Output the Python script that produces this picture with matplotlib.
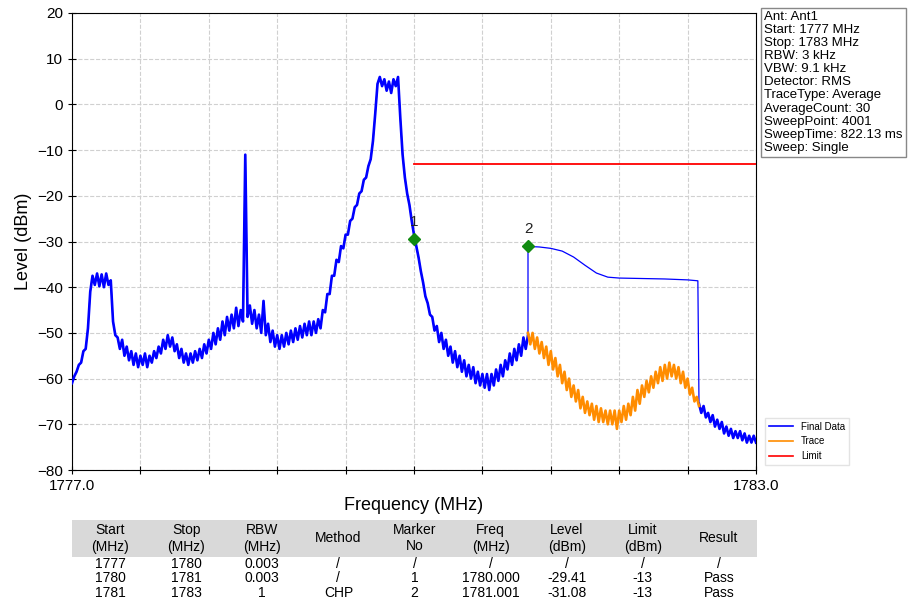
import numpy as np
import matplotlib.pyplot as plt

plt.rcParams['font.family'] = ['Liberation Sans', 'DejaVu Sans']

# Final Data, 1777.00 .. 1781.00 MHz, 0.02 MHz step
final_lo = [
    -61, -59.5, -58.5, -57, -56.5, -54, -53.5, -49, -41, -37.5,
    -39.5, -37, -39.8, -37.2, -40, -37, -39.5, -38.5, -47.5, -50.5,
    -51, -53.5, -51.5, -55, -53, -56, -54, -57, -54.5, -57.5,
    -55, -57, -54.5, -57.5, -55, -56.5, -54, -55.5, -53, -54.5,
    -51.5, -53.5, -50.5, -53, -51, -54, -52.5, -55.5, -53.5, -56.5,
    -54.5, -57, -54.5, -56.5, -54, -56, -53.5, -55.5, -52.5, -54.5,
    -51.5, -53.5, -50, -52.5, -49, -51.5, -47.5, -50.5, -46.5, -49.5,
    -46, -49, -44.5, -48.5, -45, -47.5, -11, -46.5, -44, -48,
    -45, -49, -46, -50, -43, -50.5, -48, -52, -49.5, -53,
    -50.5, -53.5, -50.5, -53, -50, -52.5, -49.5, -52, -49, -51.5,
    -48.5, -51, -48, -50.5, -47.5, -50.5, -47.5, -50, -47, -49,
    -45, -45.5, -41.5, -41.5, -37.5, -37.5, -34, -34.5, -31, -31.5,
    -28.5, -28.5, -25.5, -25, -22.5, -22, -19.5, -19, -16.5, -16,
    -13.5, -12, -8, -2, 4.5, 6, 4, 5.5, 3, 5,
    2.5, 5.5, 4, 6, -3, -11, -16, -19.5, -22, -25.5,
    -28.5, -31, -33.5, -36.5, -39, -42, -43.5, -46, -46.5, -49.5,
    -48.5, -52, -50, -53.5, -51.5, -55, -53, -56.5, -54, -57.5,
    -55, -58.5, -56, -59.5, -57, -60, -57.5, -61, -58.5, -61.5,
    -59, -62, -59, -62.5, -59, -61.5, -58, -60.5, -57, -59.5,
    -56, -58, -54.5, -57, -53.5, -56, -52.5, -55, -51, -53.5,
    -50.5,
]

# Final Data, channel power part (smooth)
chp_freq = [1781.0, 1781.1, 1781.2, 1781.3, 1781.4, 1781.5, 1781.6, 1781.7,
            1781.8, 1782.0, 1782.2, 1782.4, 1782.49, 1782.5]
chp_level = [-31.08, -31.2, -31.5, -32.1, -33.4, -35.2, -36.9, -37.8,
             -38.0, -38.1, -38.2, -38.4, -38.6, -65.5]

# Final Data, 1782.50 .. 1783.00 MHz
final_hi = [
    -65.5, -67.5, -66, -68.5, -67.5, -69.5, -68, -70.5, -69, -71,
    -69.5, -72, -70.5, -72.5, -71, -73, -71.5, -73, -71.5, -73.5,
    -72, -74, -72.5, -74, -72.5, -74,
]

# Trace, 1781.00 .. 1782.50 MHz
trace = [
    -50, -52.5, -50, -53.5, -51, -54.5, -52, -55.5, -53, -57,
    -54, -58, -55.5, -59.5, -57, -61, -58.5, -62.5, -60, -64,
    -61.5, -65, -62.5, -66.5, -64, -67.5, -65, -68, -65.5, -69,
    -66, -69.5, -66.5, -69.5, -67, -70, -67, -70, -67, -71,
    -67, -69.5, -66, -69, -65.5, -68, -64, -67, -62.5, -65.5,
    -61.5, -64, -60.5, -63, -59.5, -62, -58.5, -61, -57.5, -60.5,
    -57, -60, -56.5, -59.5, -57, -60, -57.5, -61, -58.5, -62,
    -60, -63.5, -62, -65, -64, -66,
]

limit_freq = [1780.0, 1783.0]
limit_level = [-13, -13]

marker_no = ["1", "2"]
marker_freq = [1780.000, 1781.001]
marker_level = [-29.41, -31.08]

info = ["Ant: Ant1", "Start: 1777 MHz", "Stop: 1783 MHz", "RBW: 3 kHz",
        "VBW: 9.1 kHz", "Detector: RMS", "TraceType: Average",
        "AverageCount: 30", "SweepPoint: 4001", "SweepTime: 822.13 ms",
        "Sweep: Single"]

col_labels = ["Start\n(MHz)", "Stop\n(MHz)", "RBW\n(MHz)", "Method", "Marker\nNo",
              "Freq\n(MHz)", "Level\n(dBm)", "Limit\n(dBm)", "Result"]
rows = [
    ["1777", "1780", "0.003", "/", "/", "/", "/", "/", "/"],
    ["1780", "1781", "0.003", "/", "1", "1780.000", "-29.41", "-13", "Pass"],
    ["1781", "1783", "1", "CHP", "2", "1781.001", "-31.08", "-13", "Pass"],
]

f_lo = 1777.0 + 0.02 * np.arange(len(final_lo))
f_hi = 1782.5 + 0.02 * np.arange(len(final_hi))
f_tr = 1781.0 + 0.02 * np.arange(len(trace))

fd_freq = np.concatenate([f_lo, chp_freq, f_hi])
fd_level = np.concatenate([final_lo, chp_level, final_hi])

fig = plt.figure(figsize=(9.15, 6.12), dpi=100)
ax = fig.add_axes([72 / 915, 1 - 470 / 612, 684 / 915, 457 / 612])

blue = '#0000ff'
ax.plot(fd_freq, fd_level, color=blue, lw=0.9, label='Final Data', zorder=3)
# noisy parts look thicker on the analyzer plot
ax.plot(f_lo, final_lo, color=blue, lw=1.9, zorder=3)
ax.plot(f_hi, final_hi, color=blue, lw=1.9, zorder=3)
ax.plot(f_tr, trace, color='#ff8c00', lw=1.9, label='Trace', zorder=4)
ax.plot(limit_freq, limit_level, color='#ff0000', lw=1.3, label='Limit', zorder=3)

ax.plot(marker_freq, marker_level, 'D', color='#108a10', ms=6, zorder=5)
for n, f, l in zip(marker_no, marker_freq, marker_level):
    ax.text(f, l + 2.2, n, ha='center', va='bottom', fontsize=11, color='#222222')

ax.set_xlim(1777, 1783)
ax.set_ylim(-80, 20)
xt = np.linspace(1777, 1783, 11)
ax.set_xticks(xt)
ax.set_xticklabels(["1777.0"] + [""] * 9 + ["1783.0"])
ax.set_yticks(np.arange(-80, 21, 10))
ax.tick_params(direction='inout', length=6, labelsize=11)
ax.grid(True, linestyle='--', color='#d0d0d0', lw=0.8)
ax.set_xlabel("Frequency (MHz)", fontsize=13, labelpad=3)
ax.set_ylabel("Level (dBm)", fontsize=13)

leg = ax.legend(loc='lower left', bbox_to_anchor=(760 / 915, 1 - 470 / 612),
                bbox_transform=fig.transFigure, fontsize=7, frameon=True,
                fancybox=False, edgecolor='#dddddd', handlelength=2.5)
for h in leg.get_lines():
    h.set_linewidth(1.2)

fig.text(764 / 915, 1 - 11 / 612, "\n".join(info), ha='left', va='top',
         fontsize=9.5, linespacing=1.12,
         bbox=dict(boxstyle='square,pad=0.25', fc='white', ec='#888888', lw=1))

tax = fig.add_axes([72 / 915, 1 - 600 / 612, 685 / 915, 80 / 612])
tax.axis('off')
tbl = tax.table(cellText=rows, colLabels=col_labels, cellLoc='center',
                bbox=[0, 0, 1, 1])
tbl.auto_set_font_size(False)
for (r, c), cell in tbl.get_celld().items():
    cell.set_edgecolor('none')
    cell.get_text().set_fontsize(10)
    if r == 0:
        cell.set_facecolor('#d9d9d9')
        cell.set_height(0.46)
    else:
        cell.set_facecolor('white')
        cell.set_height(0.18)

fig.savefig("out.png", dpi=100)
